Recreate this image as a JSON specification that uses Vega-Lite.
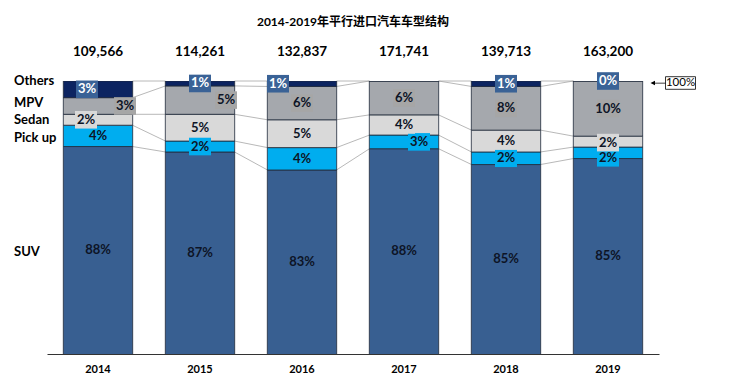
{
  "$schema": "https://vega.github.io/schema/vega-lite/v6.json",
  "width": 612,
  "height": 273,
  "autosize": "none",
  "padding": {"left": 47, "top": 81, "right": 85, "bottom": 33},
  "background": "white",
  "title": {"text": "2014-2019年平行进口汽车车型结构", "fontSize": 12, "fontWeight": "bold", "color": "#000", "font": "Lato, Noto Sans CJK SC", "anchor": "middle", "offset": 16},
  "config": {"view": {"stroke": null}, "font": "Lato, Noto Sans CJK SC"},
  "datasets": {
    "seg": [
      {"year": "2014", "cat": "SUV", "share": 88.0, "label": "88%"},
      {"year": "2014", "cat": "Pick up", "share": 3.9, "label": "4%"},
      {"year": "2014", "cat": "Sedan", "share": 2.0, "label": "2%"},
      {"year": "2014", "cat": "MPV", "share": 3.05, "label": "3%"},
      {"year": "2014", "cat": "Others", "share": 3.05, "label": "3%"},
      {"year": "2015", "cat": "SUV", "share": 87.0, "label": "87%"},
      {"year": "2015", "cat": "Pick up", "share": 2.0, "label": "2%"},
      {"year": "2015", "cat": "Sedan", "share": 4.9, "label": "5%"},
      {"year": "2015", "cat": "MPV", "share": 5.2, "label": "5%"},
      {"year": "2015", "cat": "Others", "share": 0.9, "label": "1%"},
      {"year": "2016", "cat": "SUV", "share": 83.7, "label": "83%"},
      {"year": "2016", "cat": "Pick up", "share": 4.1, "label": "4%"},
      {"year": "2016", "cat": "Sedan", "share": 5.1, "label": "5%"},
      {"year": "2016", "cat": "MPV", "share": 6.1, "label": "6%"},
      {"year": "2016", "cat": "Others", "share": 1.0, "label": "1%"},
      {"year": "2017", "cat": "SUV", "share": 87.6, "label": "88%"},
      {"year": "2017", "cat": "Pick up", "share": 2.5, "label": "3%"},
      {"year": "2017", "cat": "Sedan", "share": 3.7, "label": "4%"},
      {"year": "2017", "cat": "MPV", "share": 6.2, "label": "6%"},
      {"year": "2017", "cat": "Others", "share": 0.0, "label": ""},
      {"year": "2018", "cat": "SUV", "share": 84.7, "label": "85%"},
      {"year": "2018", "cat": "Pick up", "share": 2.3, "label": "2%"},
      {"year": "2018", "cat": "Sedan", "share": 4.0, "label": "4%"},
      {"year": "2018", "cat": "MPV", "share": 8.0, "label": "8%"},
      {"year": "2018", "cat": "Others", "share": 1.0, "label": "1%"},
      {"year": "2019", "cat": "SUV", "share": 85.8, "label": "85%"},
      {"year": "2019", "cat": "Pick up", "share": 2.1, "label": "2%"},
      {"year": "2019", "cat": "Sedan", "share": 2.0, "label": "2%"},
      {"year": "2019", "cat": "MPV", "share": 10.1, "label": "10%"},
      {"year": "2019", "cat": "Others", "share": 0.0, "label": "0%"}
    ],
    "totals": [
      {"year": "2014", "total": "109,566"},
      {"year": "2015", "total": "114,261"},
      {"year": "2016", "total": "132,837"},
      {"year": "2017", "total": "171,741"},
      {"year": "2018", "total": "139,713"},
      {"year": "2019", "total": "163,200"}
    ],
    "note": [{"year": "2019", "text": "100%"}]
  },
  "encoding": {
    "x": {"field": "year", "type": "ordinal", "scale": {"paddingInner": 0.32, "paddingOuter": 0.16},
      "axis": {"title": null, "labelAngle": 0, "ticks": false, "labelFont": "Lato", "labelFontWeight": "bold", "labelFontSize": 11, "labelColor": "#000", "labelPadding": 9, "domainColor": "#333", "domainWidth": 1}}
  },
  "layer": [
    {
      "data": {"name": "seg"},
      "transform": [
        {"calculate": "indexof(['SUV','Pick up','Sedan','MPV','Others'], datum.cat)", "as": "rank"},
        {"stack": "share", "groupby": ["year"], "sort": [{"field": "rank", "order": "ascending"}], "as": ["y0", "y1"]},
        {"window": [{"op": "lead", "field": "y1", "as": "ny1"}, {"op": "lead", "field": "year", "as": "nyear"}], "groupby": ["cat"], "sort": [{"field": "year", "order": "ascending"}], "frame": [null, null]},
        {"filter": "datum.nyear != null"}
      ],
      "mark": {"type": "rule", "xOffset": 34.5, "x2Offset": -34.5, "color": "#a6a6a6", "strokeWidth": 0.8},
      "encoding": {
        "x2": {"field": "nyear"},
        "y": {"field": "y1", "type": "quantitative", "scale": {"domain": [50, 100], "nice": false, "zero": false}, "axis": null},
        "y2": {"field": "ny1"}
      }
    },
    {
      "data": {"name": "seg"},
      "transform": [
        {"calculate": "indexof(['SUV','Pick up','Sedan','MPV','Others'], datum.cat)", "as": "rank"},
        {"stack": "share", "groupby": ["year"], "sort": [{"field": "rank", "order": "ascending"}], "as": ["y0", "y1"]}
      ],
      "mark": {"type": "bar", "clip": true, "stroke": "#1f2a3a", "strokeWidth": 0.8},
      "encoding": {
        "y": {"field": "y0", "type": "quantitative", "scale": {"domain": [50, 100], "nice": false, "zero": false}, "axis": null},
        "y2": {"field": "y1"},
        "color": {"field": "cat", "type": "nominal", "legend": null,
          "scale": {"domain": ["SUV", "Pick up", "Sedan", "MPV", "Others"], "range": ["#385f91", "#00adef", "#d9d9d9", "#a5a8ad", "#0c2461"]}}
      }
    },
    {
      "data": {"name": "seg"},
      "transform": [
        {"calculate": "indexof(['SUV','Pick up','Sedan','MPV','Others'], datum.cat)", "as": "rank"},
        {"stack": "share", "groupby": ["year"], "sort": [{"field": "rank", "order": "ascending"}], "as": ["y0", "y1"]},
        {"calculate": "(max(datum.y0, 50) + datum.y1) / 2", "as": "mid"},
        {"filter": "datum.cat != 'SUV' && datum.label != ''"}
      ],
      "mark": {"type": "point", "shape": "M-1,-0.8H1V0.8H-1Z", "size": 484, "filled": true, "opacity": 1, "strokeWidth": 0,
        "xOffset": {"expr": "datum.year=='2014' && datum.cat=='Others' ? -11 : datum.year=='2014' && datum.cat=='MPV' ? 27 : datum.year=='2014' && datum.cat=='Sedan' ? -12 : datum.year=='2015' && datum.cat=='MPV' ? 26 : datum.year=='2016' && datum.cat=='Others' ? -24 : datum.year=='2017' && datum.cat=='Pick up' ? 15 : 0"},
        "yOffset": {"expr": "datum.year=='2019' && datum.cat=='Pick up' ? 5 : datum.year=='2019' && datum.cat=='Sedan' ? 1 : 0"}},
      "encoding": {
        "y": {"field": "mid", "type": "quantitative", "scale": {"domain": [50, 100], "nice": false, "zero": false}, "axis": null},
        "fill": {"field": "cat", "type": "nominal", "legend": null,
          "scale": {"domain": ["Pick up", "Sedan", "MPV", "Others"], "range": ["#00adef", "#d9d9d9", "#a6a6a6", "#3a6296"]}}
      }
    },
    {
      "data": {"name": "seg"},
      "transform": [
        {"calculate": "indexof(['SUV','Pick up','Sedan','MPV','Others'], datum.cat)", "as": "rank"},
        {"stack": "share", "groupby": ["year"], "sort": [{"field": "rank", "order": "ascending"}], "as": ["y0", "y1"]},
        {"calculate": "(max(datum.y0, 50) + datum.y1) / 2", "as": "mid"},
        {"filter": "datum.label != ''"}
      ],
      "mark": {"type": "text", "font": "Lato", "fontWeight": "bold", "fontSize": 13, "baseline": "middle", "align": "center",
        "xOffset": {"expr": "datum.year=='2014' && datum.cat=='Others' ? -11 : datum.year=='2014' && datum.cat=='MPV' ? 27 : datum.year=='2014' && datum.cat=='Sedan' ? -12 : datum.year=='2015' && datum.cat=='MPV' ? 26 : datum.year=='2016' && datum.cat=='Others' ? -24 : datum.year=='2017' && datum.cat=='Pick up' ? 15 : 0"},
        "yOffset": {"expr": "datum.year=='2019' && datum.cat=='Pick up' ? 5 : datum.year=='2019' && datum.cat=='Sedan' ? 1 : 0"}},
      "encoding": {
        "y": {"field": "mid", "type": "quantitative", "scale": {"domain": [50, 100], "nice": false, "zero": false}, "axis": null},
        "text": {"field": "label"},
        "color": {"condition": {"test": "datum.cat === 'Others'", "value": "#ffffff"}, "value": "#0d1426"}
      }
    },
    {
      "data": {"name": "seg"},
      "transform": [
        {"calculate": "indexof(['SUV','Pick up','Sedan','MPV','Others'], datum.cat)", "as": "rank"},
        {"stack": "share", "groupby": ["year"], "sort": [{"field": "rank", "order": "ascending"}], "as": ["y0", "y1"]},
        {"calculate": "(max(datum.y0, 50) + datum.y1) / 2", "as": "mid"},
        {"filter": "datum.year == '2014'"}
      ],
      "mark": {"type": "text", "font": "Lato", "fontWeight": "bold", "fontSize": 13, "baseline": "middle", "align": "left", "xOffset": -84, "color": "#000",
        "yOffset": {"expr": "datum.cat=='Others' ? -8 : datum.cat=='MPV' ? -3 : datum.cat=='Pick up' ? 2 : datum.cat=='SUV' ? 2 : 0"}},
      "encoding": {
        "y": {"field": "mid", "type": "quantitative", "scale": {"domain": [50, 100], "nice": false, "zero": false}, "axis": null},
        "text": {"field": "cat"}
      }
    },
    {
      "data": {"name": "totals"},
      "mark": {"type": "text", "font": "Lato", "fontWeight": "bold", "fontSize": 13.5, "baseline": "middle", "align": "center", "dy": -29, "color": "#000"},
      "encoding": {
        "y": {"datum": 100, "type": "quantitative", "scale": {"domain": [50, 100], "nice": false, "zero": false}, "axis": null},
        "text": {"field": "total"}
      }
    },
    {
      "data": {"name": "note"},
      "mark": {"type": "point", "shape": "M-1,-0.42H1V0.42H-1Z", "size": 900, "filled": false, "fill": "white", "stroke": "#000", "strokeWidth": 0.8, "opacity": 1, "xOffset": 72.5, "yOffset": 2},
      "encoding": {
        "y": {"datum": 100, "type": "quantitative"}
      }
    },
    {
      "data": {"name": "note"},
      "mark": {"type": "point", "shape": "M-1,0L-0.4,-0.3L-0.4,0.3Z M-0.4,-0.05H1V0.05H-0.4Z", "size": 225, "filled": true, "color": "#000", "opacity": 1, "strokeWidth": 0, "xOffset": 50, "yOffset": 2},
      "encoding": {
        "y": {"datum": 100, "type": "quantitative"}
      }
    },
    {
      "data": {"name": "note"},
      "mark": {"type": "text", "font": "Lato", "fontSize": 11.5, "baseline": "middle", "align": "center", "xOffset": 72.5, "yOffset": 2, "color": "#000"},
      "encoding": {
        "y": {"datum": 100, "type": "quantitative"},
        "text": {"field": "text"}
      }
    }
  ]
}
